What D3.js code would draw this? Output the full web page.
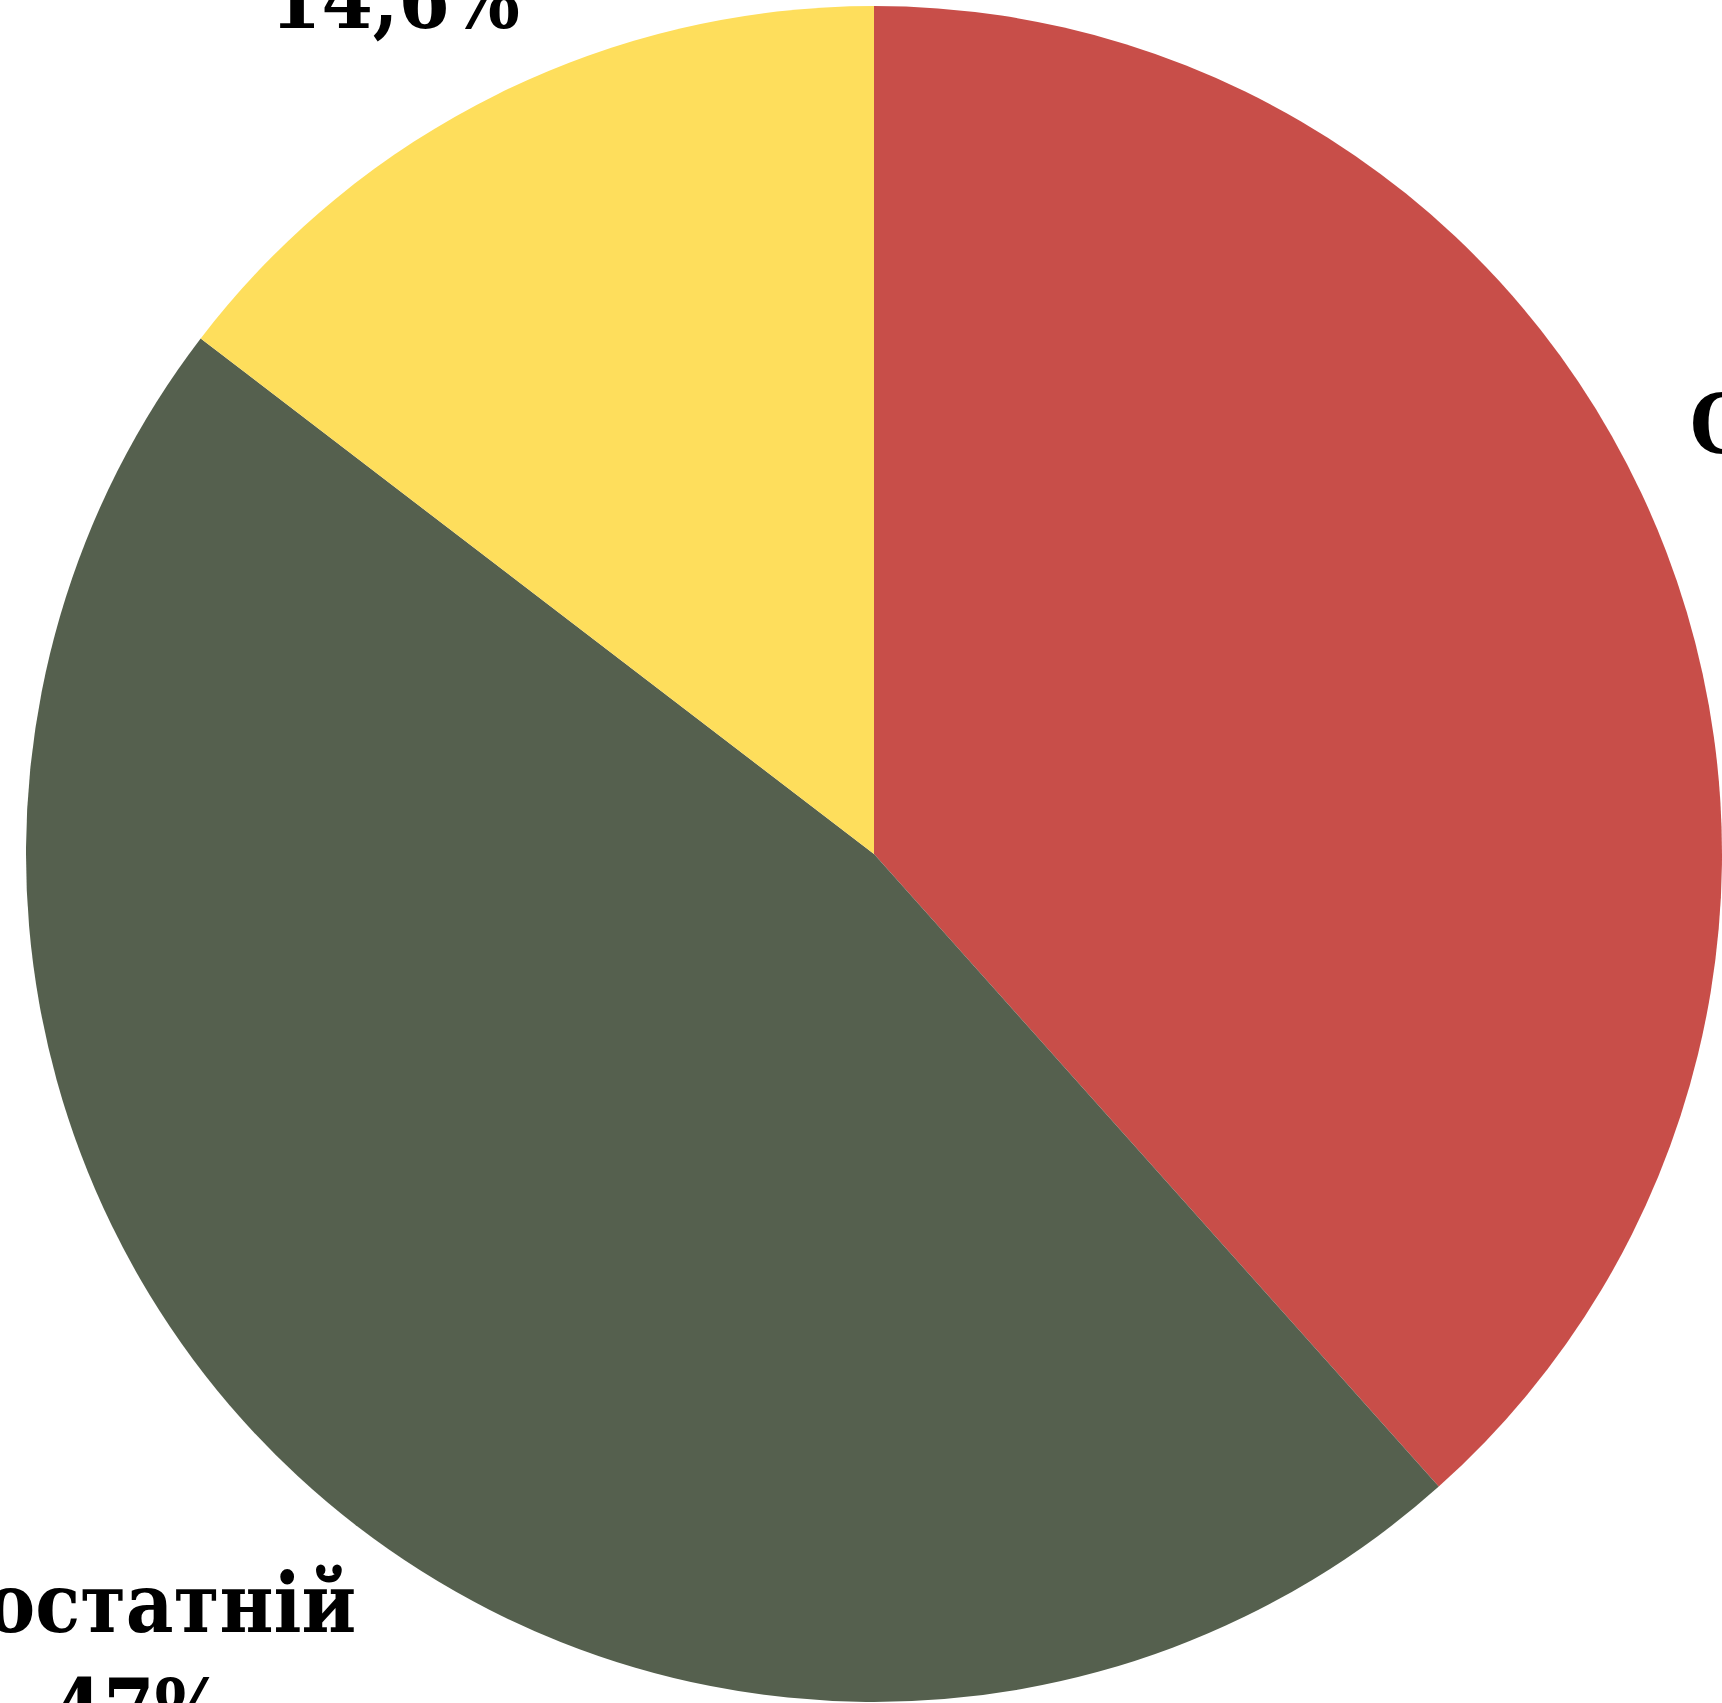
<!DOCTYPE html>
<html>
<head>
<meta charset="utf-8">
<script src="https://cdn.jsdelivr.net/npm/d3@7"></script>
<style>
  html, body { margin: 0; padding: 0; background: #ffffff; overflow: hidden; }
  svg { display: block; }
</style>
</head>
<body>
<div id="chart"></div>
<script>
const categories = ["Середній", "Достатній", "Початковий рівень"];
const values = [38.4, 47, 14.6];
const valueLabels = ["38,4%", "47%", "14,6%"];
const colors = ["#c84e49", "#55604e", "#fede5c"];

const W = 1722, H = 1703;
const cx = 874, cy = 854, R = 848;
const labelR = 1082;
const lineH = 106;
const fontSize = 82;
const wrapWidth = 460;
const labelDy = 10;

const svg = d3.select("#chart").append("svg")
  .attr("width", W).attr("height", H);

const g = svg.append("g").attr("transform", `translate(${cx},${cy})`);

const data = categories.map((c, i) => ({ name: c, value: values[i], label: valueLabels[i], color: colors[i] }));

const pie = d3.pie().sort(null).value(d => d.value);
const arc = d3.arc().innerRadius(0).outerRadius(R);
const labelArc = d3.arc().innerRadius(labelR).outerRadius(labelR);

const arcs = pie(data);

g.selectAll("path.slice").data(arcs).enter().append("path")
  .attr("class", "slice")
  .attr("d", arc)
  .attr("fill", d => d.data.color);

const labels = g.selectAll("text.lbl").data(arcs).enter().append("text")
  .attr("class", "lbl")
  .attr("transform", d => {
    const [x, y] = labelArc.centroid(d);
    return `translate(${x},${y + labelDy})`;
  })
  .attr("text-anchor", "middle")
  .style("font-family", "'DejaVu Serif Condensed', 'DejaVu Serif', serif")
  .style("font-stretch", "condensed")
  .style("font-weight", "bold")
  .style("font-size", fontSize + "px")
  .attr("fill", "#000");

// wrap the name into lines, then add the value line; centre the block vertically
labels.each(function(d) {
  const t = d3.select(this);
  const words = d.data.name.split(" ");
  const lines = [];
  let cur = "";
  const probe = t.append("tspan");
  words.forEach(w => {
    const test = cur ? cur + " " + w : w;
    probe.text(test);
    if (probe.node().getComputedTextLength() > wrapWidth && cur) {
      lines.push(cur);
      cur = w;
    } else {
      cur = test;
    }
  });
  if (cur) lines.push(cur);
  probe.remove();
  lines.push(d.data.label);
  const n = lines.length;
  const y0 = -(n - 1) * lineH / 2 + fontSize * 0.34;
  lines.forEach((ln, i) => {
    t.append("tspan").attr("x", 0).attr("y", y0 + i * lineH).text(ln);
  });
});
</script>
</body>
</html>
